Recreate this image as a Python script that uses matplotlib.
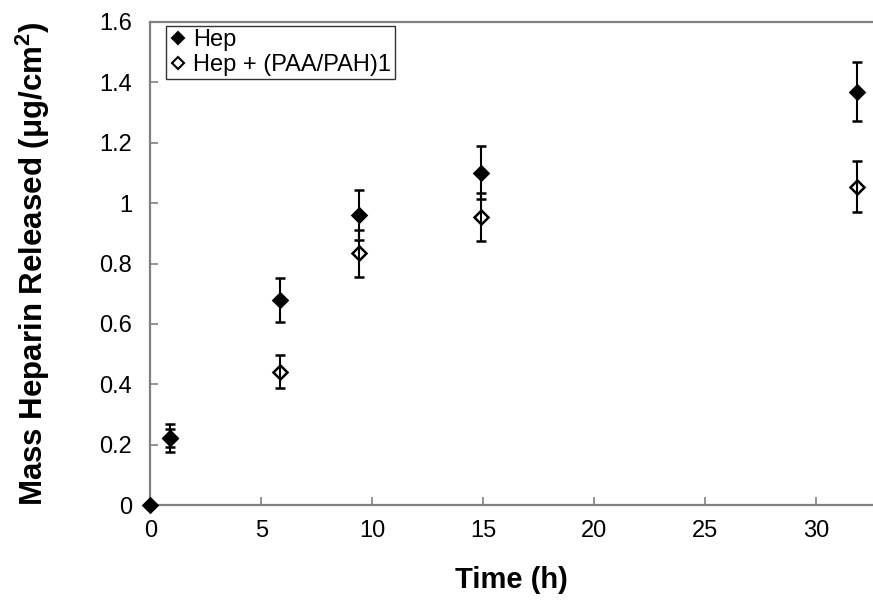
import matplotlib

matplotlib.use("Agg")

import matplotlib.pyplot as plt
from matplotlib.lines import Line2D

plt.rcParams["font.family"] = ["Liberation Sans", "DejaVu Sans"]
plt.rcParams["mathtext.fontset"] = "custom"
plt.rcParams["mathtext.rm"] = "Liberation Sans"
plt.rcParams["mathtext.bf"] = "Liberation Sans:bold"

# release data (time in h, mass in ug/cm2)
time_hep = [0.0, 0.88, 5.84, 9.41, 14.9, 31.84]
hep = [0.0, 0.221, 0.679, 0.961, 1.101, 1.369]
hep_err = [0.0, 0.046, 0.072, 0.082, 0.088, 0.097]

time_paa = [0.88, 5.84, 9.41, 14.9, 31.84]
paa = [0.221, 0.441, 0.834, 0.955, 1.054]
paa_err = [0.03, 0.055, 0.078, 0.080, 0.085]

labels = ["Hep", "Hep + (PAA/PAH)1"]
xticks = [0, 5, 10, 15, 20, 25, 30]
yticks = [0, 0.2, 0.4, 0.6, 0.8, 1.0, 1.2, 1.4, 1.6]
ytick_labels = ["0", "0.2", "0.4", "0.6", "0.8", "1", "1.2", "1.4", "1.6"]

fig = plt.figure(figsize=(8.73, 6.06), dpi=100)
ax = fig.add_axes([150.4 / 873, 1 - 505 / 606, 1 - 150.4 / 873, (505 - 22) / 606])

style = dict(fmt="D", ms=7.5, mec="black", mew=1.8, ecolor="black",
             elinewidth=1.5, capsize=3.5, capthick=1.5, zorder=3)
c1 = ax.errorbar(time_hep, hep, yerr=hep_err, mfc="black", **style)
c2 = ax.errorbar(time_paa, paa, yerr=paa_err, mfc="none", **style)
for cont in (c1, c2):
    for art in cont.get_children():
        art.set_clip_on(False)

ax.set_xlim(0, (873 - 150.4) / 22.2)
ax.set_ylim(0, 1.6)
ax.set_xticks(xticks)
ax.set_yticks(yticks)
ax.set_yticklabels(ytick_labels)

for side in ["left", "bottom", "top"]:
    ax.spines[side].set_color("#808080")
    ax.spines[side].set_linewidth(1.6)
ax.spines["right"].set_visible(False)
ax.tick_params(direction="in", length=6, width=1.2, color="#808080",
               labelsize=17)
ax.tick_params(axis="y", pad=13)
ax.tick_params(axis="x", pad=11)

ax.set_xlabel("Time (h)", fontsize=21, fontweight="bold", labelpad=17)
ax.set_ylabel(r"Mass Heparin Released (μg/cm$^{\mathbf{2}}$)", fontsize=22.5,
              fontweight="bold", labelpad=34)

handles = [
    Line2D([], [], ls="none", marker="D", ms=6, mfc="black", mec="black", mew=1.5),
    Line2D([], [], ls="none", marker="D", ms=6, mfc="white", mec="black", mew=1.5),
]
leg = ax.legend(handles, labels, loc="upper left", bbox_to_anchor=(0.022, 0.992),
                fontsize=17, frameon=True, fancybox=False, edgecolor="black",
                handlelength=0.7, handletextpad=0.3, borderpad=0.15,
                borderaxespad=0, labelspacing=0.1)
leg.get_frame().set_linewidth(1)

fig.savefig("out.png", dpi=100)
